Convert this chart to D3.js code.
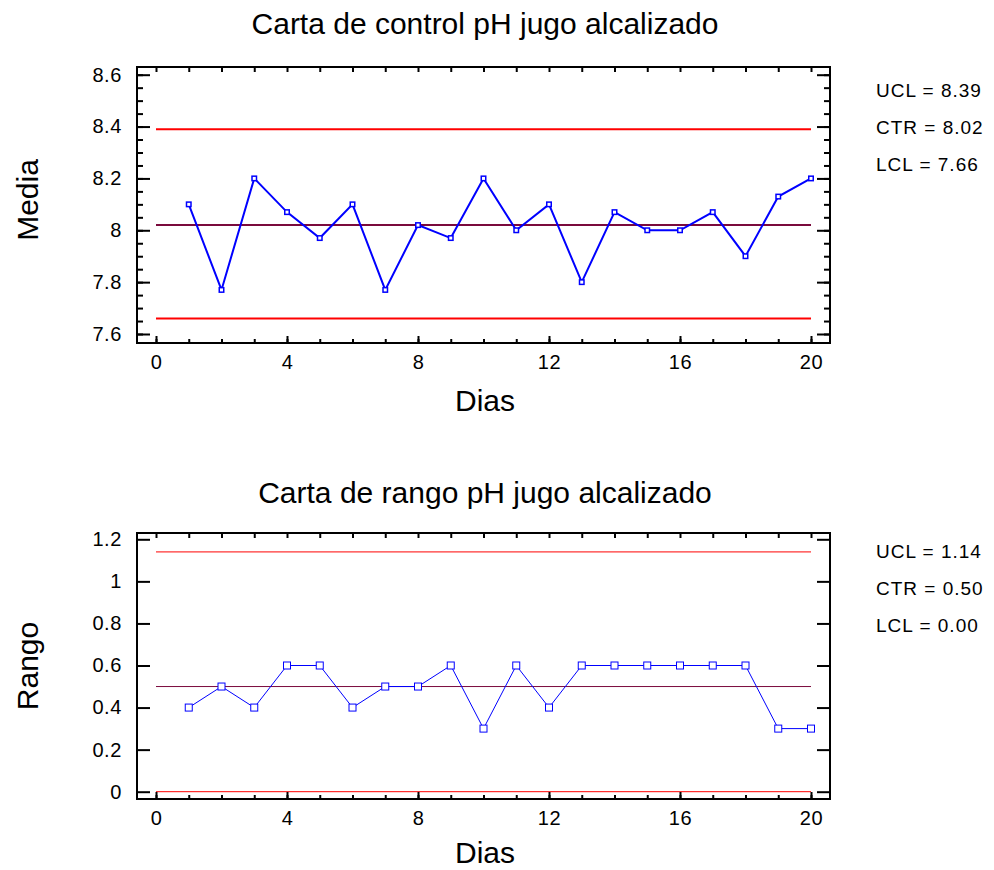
<!DOCTYPE html>
<html>
<head>
<meta charset="utf-8">
<script src="https://cdn.jsdelivr.net/npm/d3@7/dist/d3.min.js"></script>
<style>
  html, body { margin: 0; padding: 0; background: #fff; }
  svg { display: block; font-family: "Liberation Sans", Arial, sans-serif; }
</style>
</head>
<body>
<svg id="chart" width="994" height="870"></svg>
<script>
// Days (subgroups)
const days = d3.range(1, 21);

// Subgroup means of pH
const meanValues = [8.10, 7.77, 8.20, 8.07, 7.97, 8.10, 7.77, 8.02, 7.97, 8.20,
                    8.00, 8.10, 7.80, 8.07, 8.00, 8.00, 8.07, 7.90, 8.13, 8.20];
// Subgroup ranges of pH
const rangeValues = [0.4, 0.5, 0.4, 0.6, 0.6, 0.4, 0.5, 0.5, 0.6, 0.3,
                     0.6, 0.4, 0.6, 0.6, 0.6, 0.6, 0.6, 0.6, 0.3, 0.3];

// Control limits
const meanLimits = { UCL: 8.39, CTR: 8.02, LCL: 7.66 };
const rangeLimits = { UCL: 1.14, CTR: 0.50, LCL: 0.00 };

// Axis ticks
const xMajorTicks = [0, 4, 8, 12, 16, 20];
const xMinorTicks = d3.range(0, 21);
const meanMajorTicks = [7.6, 7.8, 8.0, 8.2, 8.4, 8.6];
const meanMinorTicks = d3.range(7.6, 8.6001, 0.05);
const rangeMajorTicks = [0, 0.2, 0.4, 0.6, 0.8, 1.0, 1.2];

const svg = d3.select("#chart");

function drawPanel(cfg) {
  const g = svg.append("g");
  const { frame } = cfg;
  const x = d3.scaleLinear().domain([0, 20]).range([156, 811]);
  const y = d3.scaleLinear().domain(cfg.yDomain).range(cfg.yRange);

  // title
  g.append("text")
    .attr("x", 485).attr("y", cfg.titleY)
    .attr("text-anchor", "middle")
    .attr("font-size", 30)
    .attr("fill", "#000")
    .text(cfg.title);

  // control limit lines
  const limitColor = { UCL: "#ff0000", CTR: "#7a0a3c", LCL: "#ff0000" };
  ["UCL", "CTR", "LCL"].forEach(k => {
    g.append("line")
      .attr("x1", x(0)).attr("x2", x(20))
      .attr("y1", y(cfg.limits[k])).attr("y2", y(cfg.limits[k]))
      .attr("stroke", limitColor[k])
      .attr("stroke-width", cfg.limitWidth);
  });

  // data line
  const line = d3.line().x((d, i) => x(days[i])).y(d => y(d));
  g.append("path")
    .datum(cfg.values)
    .attr("d", line)
    .attr("fill", "none")
    .attr("stroke", "#0000ff")
    .attr("stroke-width", cfg.lineWidth);

  // markers
  g.selectAll("rect.pt")
    .data(cfg.values)
    .join("rect")
    .attr("class", "pt")
    .attr("x", (d, i) => x(days[i]) - cfg.markerSize / 2)
    .attr("y", d => y(d) - cfg.markerSize / 2)
    .attr("width", cfg.markerSize)
    .attr("height", cfg.markerSize)
    .attr("fill", "#fff")
    .attr("stroke", "#0000ff")
    .attr("stroke-width", cfg.markerStroke);

  // axes with inward ticks
  const bottom = frame.y + frame.h, right = frame.x + frame.w;
  g.append("g").attr("transform", `translate(0,${bottom})`)
    .call(d3.axisBottom(x).tickValues(xMajorTicks).tickSizeInner(-7).tickSizeOuter(0).tickPadding(11.5));
  g.append("g").attr("transform", `translate(0,${bottom})`)
    .call(d3.axisBottom(x).tickValues(xMinorTicks).tickSizeInner(-4).tickSizeOuter(0).tickFormat(""));
  g.append("g").attr("transform", `translate(0,${frame.y})`)
    .call(d3.axisTop(x).tickValues(xMinorTicks).tickSizeInner(-5).tickSizeOuter(0).tickFormat(""));

  g.append("g").attr("transform", `translate(${frame.x},0)`)
    .call(d3.axisLeft(y).tickValues(cfg.yMajor).tickSizeInner(-13).tickSizeOuter(0)
      .tickPadding(15).tickFormat(d3.format("~g")));
  g.append("g").attr("transform", `translate(${right},0)`)
    .call(d3.axisRight(y).tickValues(cfg.yMajor).tickSizeInner(-13).tickSizeOuter(0).tickFormat(""));
  if (cfg.yMinor) {
    g.append("g").attr("transform", `translate(${frame.x},0)`)
      .call(d3.axisLeft(y).tickValues(cfg.yMinor).tickSizeInner(-6).tickSizeOuter(0).tickFormat(""));
    g.append("g").attr("transform", `translate(${right},0)`)
      .call(d3.axisRight(y).tickValues(cfg.yMinor).tickSizeInner(-6).tickSizeOuter(0).tickFormat(""));
  }
  g.selectAll(".domain").remove();
  g.selectAll(".tick line").attr("stroke", "#000").attr("stroke-width", 2);
  g.selectAll(".tick text").attr("font-size", 20).attr("fill", "#000")
    .attr("letter-spacing", "0.6px")
    .attr("font-family", "Liberation Sans, Arial, sans-serif");

  // frame
  g.append("rect")
    .attr("x", frame.x).attr("y", frame.y)
    .attr("width", frame.w).attr("height", frame.h)
    .attr("fill", "none").attr("stroke", "#000").attr("stroke-width", 2);

  // axis titles
  g.append("text")
    .attr("x", 485).attr("y", cfg.xLabelY)
    .attr("text-anchor", "middle").attr("font-size", 30).attr("fill", "#000")
    .text("Dias");
  g.append("text")
    .attr("transform", `translate(38,${cfg.yLabelCenter}) rotate(-90)`)
    .attr("text-anchor", "middle").attr("font-size", 30).attr("fill", "#000")
    .text(cfg.yLabel);

  // limit summary
  const fmt = d3.format(".2f");
  ["UCL", "CTR", "LCL"].forEach((k, i) => {
    g.append("text")
      .attr("x", 876).attr("y", cfg.summaryY + i * 36.8)
      .attr("font-size", 19).attr("fill", "#000")
      .attr("letter-spacing", "1px")
      .text(`${k} = ${fmt(cfg.limits[k])}`);
  });
}

drawPanel({
  title: "Carta de control pH jugo alcalizado",
  titleY: 34,
  frame: { x: 137, y: 67, w: 693, h: 276 },
  yDomain: [7.6, 8.6], yRange: [334, 74.7],
  yMajor: meanMajorTicks, yMinor: meanMinorTicks,
  values: meanValues, limits: meanLimits,
  limitWidth: 2, lineWidth: 2, markerSize: 4.5, markerStroke: 1.5,
  xLabelY: 411, yLabel: "Media", yLabelCenter: 200, summaryY: 97
});

drawPanel({
  title: "Carta de rango pH jugo alcalizado",
  titleY: 503,
  frame: { x: 137, y: 533, w: 693, h: 266 },
  yDomain: [0, 1.2], yRange: [791.7, 539.3],
  yMajor: rangeMajorTicks, yMinor: null,
  values: rangeValues, limits: rangeLimits,
  limitWidth: 1, lineWidth: 1, markerSize: 7, markerStroke: 1,
  xLabelY: 863, yLabel: "Rango", yLabelCenter: 666, summaryY: 558
});
</script>
</body>
</html>
